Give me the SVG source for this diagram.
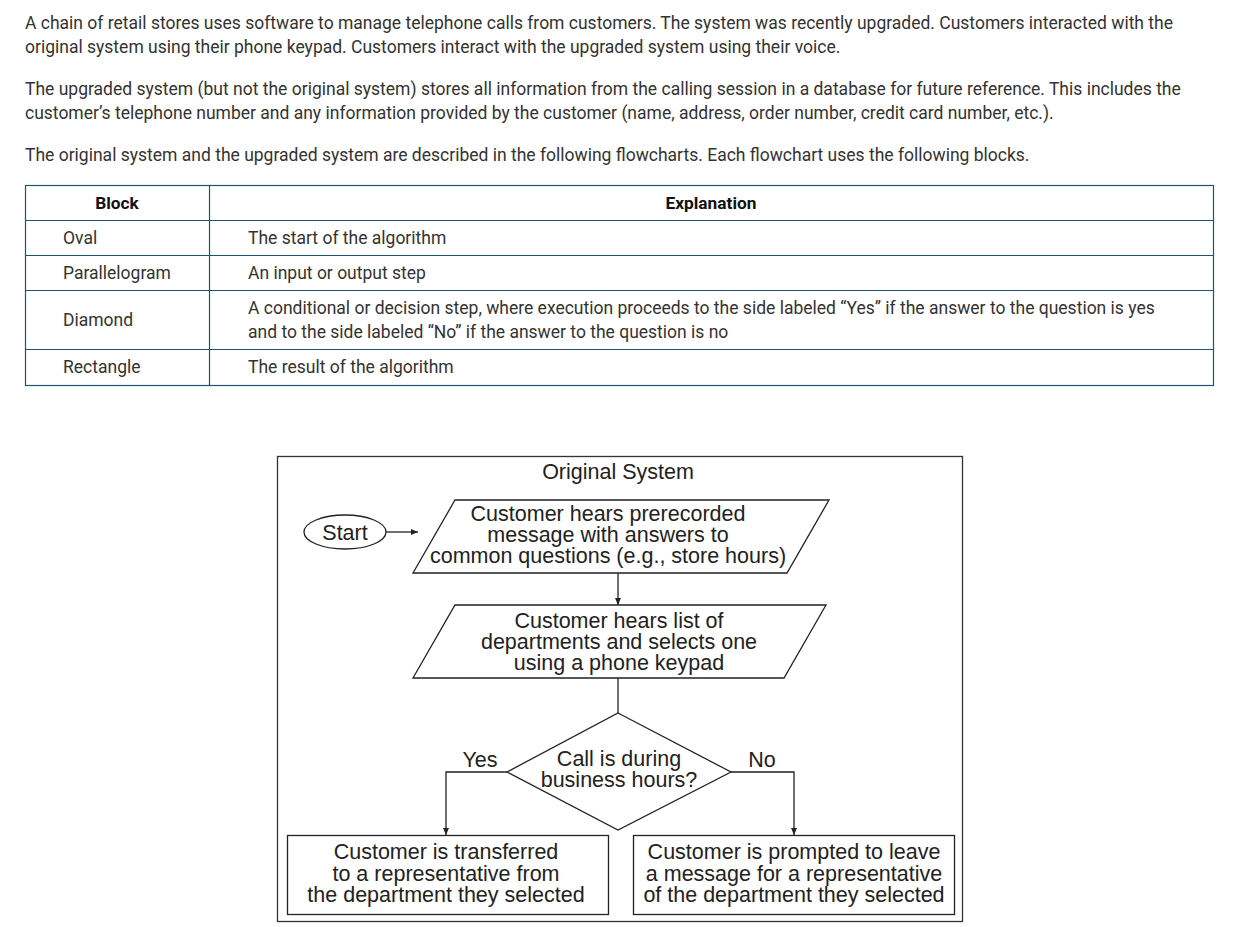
<svg xmlns="http://www.w3.org/2000/svg" width="1257" height="927" viewBox="0 0 1257 927">
<defs>
<marker id="arr" markerWidth="8" markerHeight="8" refX="7" refY="4" orient="auto" markerUnits="userSpaceOnUse">
<path d="M0,1 L7,4 L0,7 Z" fill="#222"/>
</marker>
</defs>
<style>
.p{font-family:Roboto,"Liberation Sans",sans-serif;font-size:17.5px;fill:#333}
.b{font-family:Roboto,"Liberation Sans",sans-serif;font-size:17.3px;font-weight:bold;fill:#111}
.grid{stroke:#1e5473;stroke-width:1.2;fill:none}
.f{font-family:"Liberation Sans",Arial,sans-serif;font-size:21.5px;fill:#222;text-anchor:middle}
.sh{fill:#fff;stroke:#222;stroke-width:1.3}
.c{fill:none;stroke:#222;stroke-width:1.3}
</style>
<rect width="1257" height="927" fill="#fff"/>
<g id="intro">
<text class="p" x="25" y="29">A chain of retail stores uses software to manage telephone calls from customers. The system was recently upgraded. Customers interacted with the</text>
<text class="p" x="25" y="53">original system using their phone keypad. Customers interact with the upgraded system using their voice.</text>
<text class="p" x="25" y="95">The upgraded system (but not the original system) stores all information from the calling session in a database for future reference. This includes the</text>
<text class="p" x="25" y="119">customer’s telephone number and any information provided by the customer (name, address, order number, credit card number, etc.).</text>
<text class="p" x="25" y="161">The original system and the upgraded system are described in the following flowcharts. Each flowchart uses the following blocks.</text>
</g>
<g id="table">
<rect class="grid" x="25.5" y="185.5" width="1188" height="200"/>
<line class="grid" x1="209.5" y1="185.5" x2="209.5" y2="385.5"/>
<line class="grid" x1="25.5" y1="220.5" x2="1213.5" y2="220.5"/>
<line class="grid" x1="25.5" y1="255.5" x2="1213.5" y2="255.5"/>
<line class="grid" x1="25.5" y1="290.5" x2="1213.5" y2="290.5"/>
<line class="grid" x1="25.5" y1="349.5" x2="1213.5" y2="349.5"/>
<text class="b" x="117" y="209" text-anchor="middle">Block</text>
<text class="b" x="711" y="209" text-anchor="middle">Explanation</text>
<text class="p" x="63" y="244">Oval</text>
<text class="p" x="248" y="244">The start of the algorithm</text>
<text class="p" x="63" y="279">Parallelogram</text>
<text class="p" x="248" y="279">An input or output step</text>
<text class="p" x="63" y="326">Diamond</text>
<text class="p" x="248" y="314">A conditional or decision step, where execution proceeds to the side labeled “Yes” if the answer to the question is yes</text>
<text class="p" x="248" y="338">and to the side labeled “No” if the answer to the question is no</text>
<text class="p" x="63" y="373">Rectangle</text>
<text class="p" x="248" y="373">The result of the algorithm</text>
</g>
<g id="frame">
<rect x="277.5" y="456.5" width="685" height="465" fill="none" stroke="#333" stroke-width="1.3"/>
<text class="f" x="618" y="479">Original System</text>
</g>
<g id="connectors">
<line class="c" x1="386" y1="532" x2="418" y2="532" marker-end="url(#arr)"/>
<line class="c" x1="618" y1="573" x2="618" y2="605" marker-end="url(#arr)"/>
<line class="c" x1="618" y1="678" x2="618" y2="713"/>
<polyline class="c" points="507,772 446,772 446,835" marker-end="url(#arr)"/>
<polyline class="c" points="731,772 794,772 794,835" marker-end="url(#arr)"/>
<text class="f" x="480" y="767">Yes</text>
<text class="f" x="762" y="767">No</text>
</g>
<g id="start">
<ellipse class="sh" cx="345" cy="532" rx="41" ry="17"/>
<text class="f" x="345" y="540">Start</text>
</g>
<g id="msg">
<polygon class="sh" points="455,500 829,500 787,573 413,573"/>
<text class="f" x="608" y="521">Customer hears prerecorded</text>
<text class="f" x="608" y="542">message with answers to</text>
<text class="f" x="608" y="563">common questions (e.g., store hours)</text>
</g>
<g id="dept">
<polygon class="sh" points="455,605 826,605 784,678 413,678"/>
<text class="f" x="619" y="628">Customer hears list of</text>
<text class="f" x="619" y="649">departments and selects one</text>
<text class="f" x="619" y="670">using a phone keypad</text>
</g>
<g id="decision">
<polygon class="sh" points="618,713 731,772 618,830 507,772"/>
<text class="f" x="619" y="766">Call is during</text>
<text class="f" x="619" y="787">business hours?</text>
</g>
<g id="transfer">
<rect class="sh" x="287.5" y="835.5" width="321" height="79"/>
<text class="f" x="446" y="859">Customer is transferred</text>
<text class="f" x="446" y="881">to a representative from</text>
<text class="f" x="446" y="902">the department they selected</text>
</g>
<g id="leave">
<rect class="sh" x="633.5" y="835.5" width="321" height="79"/>
<text class="f" x="794" y="859">Customer is prompted to leave</text>
<text class="f" x="794" y="881">a message for a representative</text>
<text class="f" x="794" y="902">of the department they selected</text>
</g>
</svg>
